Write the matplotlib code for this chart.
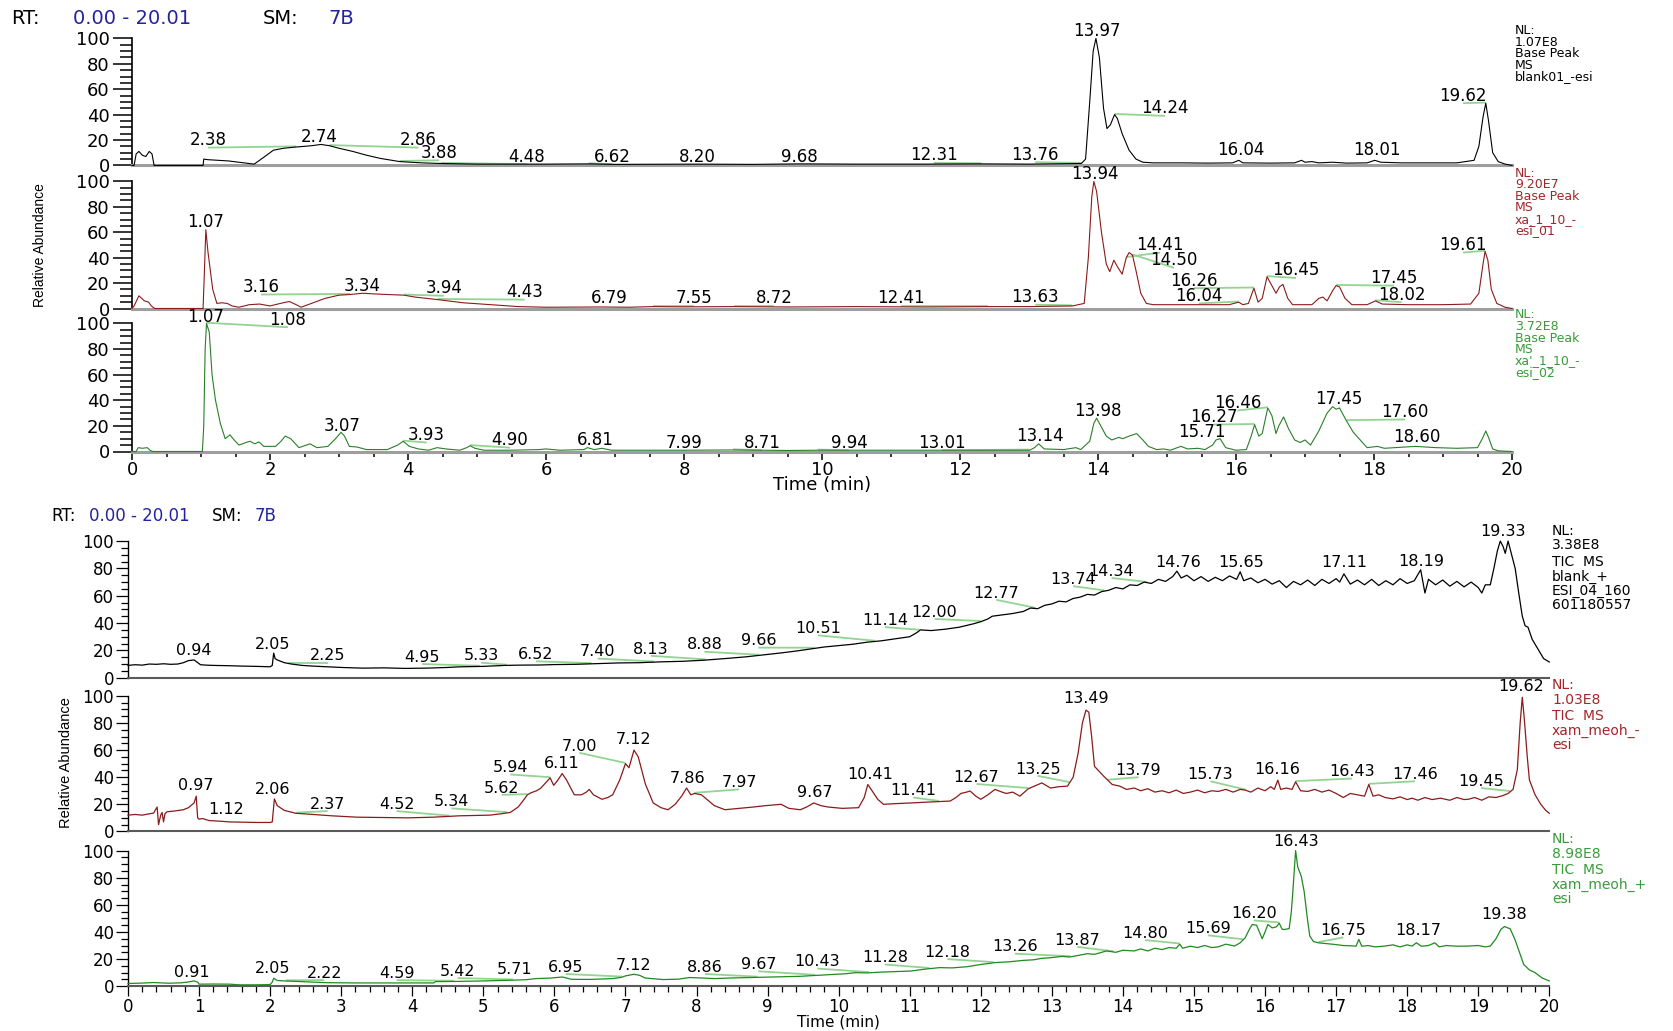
import numpy as np
import matplotlib
matplotlib.use("Agg")
import matplotlib.pyplot as plt
from matplotlib.ticker import MultipleLocator

# ---------------------------------------------------------------
# Chromatogram traces: (retention time [min], relative abundance [%])
# ---------------------------------------------------------------

# Base Peak MS, negative ESI
bp_blank = [
    (0.00, 0), (0.03, 0), (0.06, 9), (0.10, 11), (0.15, 8), (0.20, 7), (0.25, 11), (0.29, 9),
    (0.32, 0), (1.03, 0), (1.04, 5), (1.10, 4.5), (1.40, 3.5), (1.77, 1), (1.90, 6), (2.05, 12),
    (2.20, 13.5), (2.38, 14.5), (2.50, 15), (2.60, 15.5), (2.74, 16.5), (2.86, 15.5), (3.00, 13.5),
    (3.20, 11), (3.40, 8), (3.60, 5.5), (3.88, 3), (4.20, 2), (4.48, 1.5), (5.00, 1), (6.00, 1),
    (6.62, 1.2), (7.00, 0.8), (8.20, 1), (9.00, 0.8), (9.68, 1.2), (10.5, 1), (11.5, 1),
    (12.31, 1.2), (13.0, 1), (13.76, 1.5), (13.82, 5), (13.88, 50), (13.93, 90), (13.97, 100),
    (14.02, 85), (14.08, 45), (14.13, 29), (14.18, 32), (14.24, 40), (14.28, 37), (14.35, 25),
    (14.45, 12), (14.55, 5), (14.65, 2.5), (14.8, 2), (15.2, 2), (15.6, 1.8), (15.95, 2),
    (16.04, 4), (16.1, 2), (16.5, 1.8), (16.85, 2), (16.95, 4), (17.0, 2.5), (17.1, 3), (17.2, 2),
    (17.4, 2.5), (17.6, 1.8), (17.9, 2), (18.01, 4), (18.1, 2.5), (18.4, 2), (18.8, 2), (19.2, 2),
    (19.45, 4), (19.52, 15), (19.58, 38), (19.62, 49), (19.66, 35), (19.72, 10), (19.8, 3),
    (19.9, 1), (20.0, 0),
]

bp_xa01 = [
    (0.00, 0), (0.03, 2), (0.10, 10), (0.18, 6), (0.24, 5), (0.28, 2), (0.33, 0), (1.03, 0),
    (1.05, 30), (1.07, 62), (1.10, 45), (1.17, 15), (1.23, 4), (1.30, 4.5), (1.38, 4), (1.45, 2),
    (1.55, 1), (1.70, 3), (1.85, 3.5), (2.0, 2), (2.15, 4), (2.28, 5.5), (2.38, 3), (2.45, 1),
    (2.6, 4), (2.8, 8), (3.0, 10.5), (3.16, 11), (3.34, 12), (3.5, 11.5), (3.7, 11), (3.94, 10.5),
    (4.1, 9), (4.43, 7), (4.8, 4.5), (5.2, 3), (5.6, 1.5), (6.0, 1), (6.79, 1.2), (7.2, 1),
    (7.55, 1.5), (8.0, 1.3), (8.72, 1.5), (9.5, 1.2), (10.5, 1.5), (11.5, 1.2), (12.41, 1.5),
    (13.0, 1.5), (13.63, 2), (13.8, 4), (13.86, 40), (13.91, 88), (13.94, 100), (13.98, 92),
    (14.05, 60), (14.12, 35), (14.17, 29), (14.23, 38), (14.28, 33), (14.35, 27), (14.41, 40),
    (14.45, 44), (14.50, 42), (14.55, 30), (14.62, 12), (14.7, 4), (14.8, 3), (15.5, 3),
    (15.9, 3), (16.04, 5), (16.1, 3), (16.18, 4), (16.26, 16), (16.32, 5), (16.38, 8),
    (16.45, 25), (16.52, 18), (16.58, 12), (16.63, 17), (16.68, 19), (16.75, 8), (16.82, 3),
    (17.1, 3), (17.2, 8), (17.26, 9), (17.32, 6), (17.4, 14), (17.45, 18), (17.5, 17),
    (17.58, 8), (17.68, 3), (17.9, 3), (18.02, 6), (18.12, 3.5), (18.5, 3), (19.0, 3),
    (19.4, 3.5), (19.52, 12), (19.58, 35), (19.61, 45), (19.65, 38), (19.7, 15), (19.78, 4),
    (19.9, 1), (20.0, 0),
]

bp_xa02 = [
    (0.00, 0), (0.06, 0), (0.09, 3), (0.15, 2.5), (0.22, 3), (0.26, 1), (0.30, 0), (1.02, 0),
    (1.04, 20), (1.06, 80), (1.08, 100), (1.12, 93), (1.16, 60), (1.21, 40), (1.28, 22),
    (1.35, 10), (1.42, 13), (1.48, 9), (1.55, 5), (1.65, 7), (1.71, 8), (1.78, 6), (1.84, 7.5),
    (1.91, 4), (2.08, 4), (2.16, 8), (2.22, 12), (2.30, 10), (2.42, 3), (2.58, 6), (2.68, 3),
    (2.84, 4), (2.95, 10), (3.03, 15), (3.08, 12), (3.15, 4), (3.26, 3.5), (3.40, 1.5),
    (3.70, 1.5), (3.85, 5), (3.93, 8), (4.02, 4), (4.15, 2), (4.30, 1), (4.42, 3), (4.55, 2),
    (4.75, 1), (4.85, 3), (4.90, 4.5), (4.97, 2.5), (5.10, 1), (5.50, 1), (5.90, 1.5), (6.00, 2),
    (6.20, 1), (6.55, 1.5), (6.60, 3), (6.70, 1.5), (6.81, 2.5), (6.95, 1), (7.50, 1), (7.99, 1),
    (8.71, 1.2), (9.50, 0.8), (9.94, 1), (11.0, 1), (12.0, 1), (13.01, 1), (13.08, 3), (13.14, 6),
    (13.22, 2), (13.50, 1.5), (13.68, 3), (13.75, 1.5), (13.88, 8), (13.94, 22), (13.98, 26),
    (14.04, 20), (14.12, 12), (14.20, 9), (14.30, 11), (14.36, 10), (14.45, 12), (14.56, 14),
    (14.65, 9), (14.73, 4), (14.85, 1.5), (14.95, 2), (15.05, 1), (15.20, 4), (15.30, 2),
    (15.45, 2.5), (15.55, 1.5), (15.66, 5), (15.71, 9), (15.77, 10), (15.85, 3), (16.00, 1),
    (16.15, 1.5), (16.22, 12), (16.27, 21), (16.33, 12), (16.38, 14), (16.46, 34), (16.52, 28),
    (16.58, 14), (16.62, 20), (16.69, 27), (16.76, 18), (16.85, 9), (16.93, 7), (17.00, 9),
    (17.08, 5), (17.20, 16), (17.32, 30), (17.40, 35), (17.45, 33), (17.50, 34), (17.60, 24),
    (17.70, 15), (17.80, 9), (17.90, 3), (18.05, 4), (18.15, 2.5), (18.30, 3), (18.60, 4),
    (18.90, 3), (19.20, 2.5), (19.50, 3), (19.57, 10), (19.62, 16), (19.66, 11), (19.72, 2),
    (19.80, 0.5), (20.0, 0),
]

# TIC MS
tic_blank = [
    (0.0, 9), (0.1, 9.5), (0.2, 9.2), (0.3, 10), (0.4, 9.8), (0.5, 10.2), (0.6, 9.8), (0.7, 10),
    (0.78, 11), (0.85, 12.5), (0.93, 13), (0.98, 11), (1.02, 9.5), (1.1, 9.2), (1.2, 9),
    (1.4, 8.8), (1.6, 8.5), (1.8, 8.3), (2.0, 8), (2.03, 9), (2.05, 18), (2.07, 14), (2.1, 13),
    (2.2, 11), (2.3, 10), (2.45, 9), (2.6, 8.5), (2.8, 8), (3.0, 7.5), (3.3, 7), (3.6, 7.2),
    (3.9, 6.8), (4.2, 7), (4.5, 7.5), (4.6, 7.8), (4.7, 8), (5.0, 8.3), (5.3, 9), (5.5, 9.2),
    (5.8, 9.3), (6.0, 9.6), (6.3, 9.8), (6.6, 10.3), (6.9, 10.8), (7.2, 11), (7.5, 11.6),
    (7.8, 12), (8.1, 12.8), (8.4, 14), (8.7, 15.3), (9.0, 17), (9.2, 18.2), (9.4, 19.5),
    (9.6, 21), (9.8, 22.5), (10.0, 23.5), (10.2, 24.5), (10.4, 26), (10.6, 27), (10.8, 28.5),
    (11.0, 30), (11.1, 33), (11.15, 35), (11.3, 34.5), (11.5, 35.5), (11.7, 37), (11.9, 39.5),
    (12.0, 41), (12.1, 43), (12.16, 45), (12.3, 46), (12.45, 47), (12.6, 48.5), (12.7, 51),
    (12.8, 50.5), (12.9, 53), (13.0, 54), (13.1, 56), (13.2, 55.5), (13.3, 58), (13.4, 59),
    (13.5, 61), (13.6, 60.5), (13.7, 63), (13.8, 64), (13.9, 66), (14.0, 65), (14.1, 68),
    (14.2, 67.5), (14.3, 70), (14.4, 69), (14.5, 72), (14.6, 70.5), (14.7, 74), (14.76, 78),
    (14.82, 73), (14.9, 75), (15.0, 71), (15.1, 74), (15.2, 70.5), (15.3, 73.5), (15.4, 71),
    (15.5, 74.5), (15.6, 72), (15.65, 77.5), (15.7, 71), (15.8, 73), (15.9, 69.5), (16.0, 72),
    (16.1, 68.5), (16.2, 71), (16.3, 66), (16.4, 70.5), (16.5, 68), (16.6, 71.5), (16.7, 67.5),
    (16.8, 72), (16.9, 69), (17.0, 72.5), (17.05, 70), (17.11, 76), (17.2, 68.5), (17.3, 71.5),
    (17.4, 68), (17.5, 72), (17.6, 67.5), (17.7, 71), (17.8, 68), (17.9, 72.5), (18.0, 69),
    (18.1, 71), (18.19, 79), (18.25, 62), (18.3, 72), (18.4, 68), (18.5, 71.5), (18.6, 67),
    (18.7, 70.5), (18.8, 66.5), (18.9, 70), (19.0, 66), (19.05, 62), (19.1, 68), (19.17, 68),
    (19.22, 80), (19.27, 93), (19.31, 100), (19.35, 96), (19.38, 91), (19.42, 100), (19.46, 92),
    (19.52, 80), (19.57, 62), (19.62, 45), (19.66, 38), (19.7, 37), (19.76, 28), (19.84, 21),
    (19.92, 14), (20.0, 11.5),
]

tic_neg = [
    (0.0, 12), (0.1, 12.5), (0.2, 12), (0.3, 13), (0.36, 13.5), (0.41, 18), (0.43, 5),
    (0.46, 12), (0.48, 14), (0.5, 7), (0.52, 13), (0.55, 14.5), (0.65, 15), (0.78, 16),
    (0.85, 17.5), (0.93, 21), (0.96, 26), (0.98, 10), (1.0, 9), (1.05, 9.5), (1.14, 8),
    (1.3, 7.5), (1.43, 7), (1.6, 6.8), (1.8, 6.6), (2.0, 6.6), (2.03, 7), (2.06, 24), (2.1, 19),
    (2.2, 15.5), (2.36, 13.4), (2.6, 12.5), (2.87, 11.5), (3.22, 10.5), (3.6, 10.2), (3.94, 10),
    (4.3, 10.5), (4.66, 11.5), (4.9, 11.8), (5.09, 12), (5.25, 13), (5.38, 14), (5.49, 18),
    (5.55, 22), (5.62, 27), (5.67, 28.5), (5.75, 30), (5.81, 32), (5.88, 36), (5.94, 39.5),
    (5.99, 34), (6.05, 38), (6.11, 42.7), (6.17, 38), (6.28, 27), (6.38, 27), (6.45, 29),
    (6.49, 31), (6.55, 27), (6.67, 23.7), (6.75, 25), (6.82, 27), (6.92, 38), (7.0, 50),
    (7.05, 47), (7.12, 60), (7.18, 55), (7.28, 35), (7.39, 21), (7.5, 17.5), (7.6, 16),
    (7.7, 20), (7.79, 26), (7.86, 32), (7.92, 27), (7.97, 28), (8.07, 27), (8.25, 19),
    (8.4, 16), (8.6, 17), (8.8, 18), (8.97, 19), (9.19, 20), (9.3, 17), (9.46, 16), (9.55, 18),
    (9.65, 21), (9.75, 19), (9.85, 18), (10.05, 17), (10.28, 17.5), (10.36, 25), (10.41, 34.6),
    (10.47, 30), (10.55, 23.7), (10.63, 20), (10.8, 20.5), (11.02, 21), (11.2, 21.5),
    (11.41, 22), (11.57, 22.4), (11.65, 25), (11.72, 28), (11.8, 29), (11.85, 29.8),
    (11.93, 26), (12.0, 23.7), (12.1, 27), (12.2, 31), (12.3, 29), (12.36, 28), (12.45, 29),
    (12.55, 26), (12.67, 31.5), (12.78, 34), (12.86, 35.8), (12.98, 32), (13.1, 33),
    (13.22, 33.4), (13.3, 40), (13.37, 57.8), (13.43, 80), (13.48, 89.5), (13.52, 88),
    (13.56, 70), (13.6, 48), (13.73, 40.7), (13.85, 34.6), (13.95, 33.5), (14.05, 31),
    (14.16, 32), (14.25, 30), (14.35, 31.5), (14.45, 29), (14.55, 30), (14.65, 28.5),
    (14.75, 30.5), (14.85, 28), (14.95, 29), (15.05, 30.5), (15.15, 28.5), (15.25, 30),
    (15.34, 29.5), (15.45, 31), (15.55, 29), (15.65, 31), (15.72, 30.5), (15.8, 29), (15.9, 32),
    (16.0, 30), (16.08, 33), (16.13, 31), (16.18, 37.8), (16.22, 31), (16.3, 32), (16.38, 31),
    (16.43, 36.6), (16.5, 30), (16.6, 29.5), (16.7, 31), (16.8, 29), (16.9, 30.5), (17.0, 28),
    (17.1, 25), (17.2, 28), (17.3, 27), (17.4, 26), (17.46, 34.6), (17.52, 26), (17.6, 27),
    (17.69, 25), (17.8, 24), (17.9, 25.5), (18.0, 23.5), (18.07, 24.5), (18.15, 23),
    (18.25, 25), (18.35, 23.5), (18.47, 24.5), (18.6, 23), (18.7, 25), (18.8, 23.5),
    (18.86, 23.7), (18.95, 25), (19.05, 23), (19.15, 25.5), (19.25, 25), (19.35, 26.5),
    (19.42, 28), (19.49, 31), (19.55, 45.6), (19.59, 80), (19.62, 99), (19.65, 82), (19.69, 55),
    (19.72, 38), (19.8, 27), (19.88, 20), (19.95, 15.5), (20.0, 13.4),
]

tic_pos = [
    (0.0, 2), (0.2, 2.3), (0.36, 2.7), (0.57, 2.2), (0.75, 2.5), (0.86, 3.2), (0.93, 3.9),
    (0.98, 3), (1.0, 1.5), (1.2, 1.6), (1.43, 1.5), (1.57, 1), (1.8, 1), (2.0, 1.2), (2.03, 3),
    (2.05, 5.9), (2.1, 4.2), (2.2, 3.9), (2.51, 3.2), (2.8, 2.6), (3.22, 2.4), (3.94, 2.4),
    (4.3, 2.4), (4.33, 3.4), (4.6, 3.5), (5.02, 3.9), (5.38, 4.4), (5.6, 4.8), (5.74, 5.6),
    (5.95, 6), (6.11, 6.8), (6.17, 6), (6.24, 5.1), (6.5, 5), (6.82, 5.6), (6.95, 6.6),
    (7.0, 7.6), (7.12, 8.8), (7.2, 8), (7.28, 6), (7.53, 4.9), (7.75, 5.2), (7.9, 6.4),
    (8.1, 6), (8.25, 5.6), (8.45, 6), (8.61, 6.2), (8.8, 6.5), (8.97, 6.6), (9.2, 7),
    (9.46, 7.3), (9.7, 8), (9.9, 8.6), (10.1, 9.2), (10.24, 10), (10.4, 9.8), (10.6, 10.4),
    (10.8, 10.8), (11.02, 11.2), (11.2, 12.5), (11.42, 13.7), (11.6, 13.5), (11.81, 14.4),
    (12.0, 16), (12.2, 17.4), (12.4, 18), (12.59, 19), (12.75, 19.5), (12.85, 20.5),
    (12.98, 21), (13.15, 22), (13.25, 21.5), (13.37, 22.7), (13.5, 24), (13.6, 23.5),
    (13.77, 26), (13.9, 25), (14.0, 26.5), (14.16, 26), (14.25, 27.5), (14.35, 26),
    (14.45, 28), (14.55, 27), (14.65, 28.5), (14.75, 28), (14.8, 31), (14.84, 28),
    (14.95, 29.5), (15.05, 28.5), (15.15, 30), (15.25, 28.5), (15.34, 29), (15.45, 31),
    (15.57, 29.6), (15.65, 32), (15.72, 35.7), (15.78, 42), (15.82, 45.5), (15.88, 45),
    (15.92, 40), (15.96, 35), (16.0, 40), (16.04, 45.5), (16.1, 43), (16.16, 43.8),
    (16.2, 46.5), (16.24, 42), (16.27, 41.8), (16.34, 42.5), (16.37, 55), (16.39, 68.7),
    (16.43, 100), (16.46, 88), (16.51, 81), (16.55, 70), (16.6, 48), (16.63, 37), (16.68, 33),
    (16.75, 32), (16.85, 31.5), (16.98, 30.8), (17.1, 30), (17.2, 29.8), (17.28, 29.5),
    (17.32, 34.5), (17.36, 29.5), (17.45, 30), (17.55, 29), (17.69, 29.6), (17.8, 30.5),
    (17.9, 29), (18.0, 30.5), (18.07, 29.6), (18.13, 32), (18.2, 29.5), (18.3, 30),
    (18.39, 32), (18.45, 29), (18.55, 30), (18.7, 29.5), (18.86, 29.6), (19.0, 30), (19.1, 29),
    (19.17, 29.6), (19.25, 35), (19.32, 42), (19.37, 44), (19.45, 42.3), (19.52, 34),
    (19.6, 22), (19.64, 16), (19.72, 12), (19.8, 10), (19.9, 6), (20.0, 3.9),
]

# Retention times of the annotated peaks
bp_blank_peaks = [2.38, 2.74, 2.86, 3.88, 4.48, 6.62, 8.20, 9.68, 12.31, 13.76, 13.97, 14.24,
                  16.04, 18.01, 19.62]
bp_xa01_peaks = [1.07, 3.16, 3.34, 3.94, 4.43, 6.79, 7.55, 8.72, 12.41, 13.63, 13.94, 14.41,
                 14.50, 16.26, 16.04, 16.45, 17.45, 18.02, 19.61]
bp_xa02_peaks = [1.07, 1.08, 3.07, 3.93, 4.90, 6.81, 7.99, 8.71, 9.94, 13.01, 13.14, 13.98,
                 15.71, 16.27, 16.46, 17.45, 17.60, 18.60]
tic_blank_peaks = [0.94, 2.05, 2.25, 4.95, 5.33, 6.52, 7.40, 8.13, 8.88, 9.66, 10.51, 11.14,
                   12.00, 12.77, 13.74, 14.34, 14.76, 15.65, 17.11, 18.19, 19.33]
tic_neg_peaks = [0.97, 1.12, 2.06, 2.37, 4.52, 5.34, 5.62, 5.94, 6.11, 7.00, 7.12, 7.86, 7.97,
                 9.67, 10.41, 11.41, 12.67, 13.25, 13.49, 13.79, 15.73, 16.16, 16.43, 17.46,
                 19.45, 19.62]
tic_pos_peaks = [0.91, 2.05, 2.22, 4.59, 5.42, 5.71, 6.95, 7.12, 8.86, 9.67, 10.43, 11.28,
                 12.18, 13.26, 13.87, 14.80, 15.69, 16.20, 16.43, 16.75, 18.17, 19.38]

# Normalisation level / scan filter blocks
bp_blank_info = ["NL:", "1.07E8", "Base Peak", "MS", "blank01_-esi"]
bp_xa01_info = ["NL:", "9.20E7", "Base Peak", "MS", "xa_1_10_-", "esi_01"]
bp_xa02_info = ["NL:", "3.72E8", "Base Peak", "MS", "xa'_1_10_-", "esi_02"]
tic_blank_info = ["NL:", "3.38E8", "TIC  MS", "blank_+", "ESI_04_160", "601180557"]
tic_neg_info = ["NL:", "1.03E8", "TIC  MS", "xam_meoh_-", "esi"]
tic_pos_info = ["NL:", "8.98E8", "TIC  MS", "xam_meoh_+", "esi"]

rt_range = "0.00 - 20.01"
smoothing = "7B"

# ---------------------------------------------------------------
# Layout (figure pixels) and label placement (data units)
# ---------------------------------------------------------------
W, H = 1673, 1031

bp_blank_tags = [(1.10, 20), (2.72, 22), (4.15, 20), (4.45, 10), (5.72, 7), (6.96, 7), (8.20, 7),
                 (9.67, 7), (11.62, 8), (13.09, 8.5), (13.98, 106), (14.97, 45), (16.07, 12),
                 (18.04, 12), (19.29, 55)]
bp_xa01_tags = [(1.07, 68), (1.87, 17), (3.33, 18), (4.52, 16), (5.69, 13), (6.91, 8), (8.14, 8),
                (9.31, 8), (11.14, 8), (13.09, 9), (13.95, 106), (14.90, 50), (15.10, 38),
                (15.39, 22), (15.46, 10), (16.87, 30), (18.29, 24), (18.40, 11), (19.29, 50)]
bp_xa02_tags = [(1.07, 105), (2.26, 103), (3.05, 20), (4.27, 13), (5.48, 9), (6.71, 9), (8.0, 7),
                (9.13, 7), (10.39, 7), (11.74, 7), (13.16, 12), (14.0, 32), (15.51, 15),
                (15.68, 27), (16.02, 38), (17.49, 41), (18.45, 31), (18.62, 11)]
tic_blank_tags = [(0.92, 20), (2.04, 24), (2.81, 16), (4.14, 15), (4.97, 16), (5.74, 17),
                  (6.61, 19), (7.36, 21), (8.11, 24), (8.87, 27), (9.71, 36), (10.65, 42),
                  (11.35, 48), (12.22, 62), (13.30, 72), (13.84, 78), (14.77, 84), (15.66, 84),
                  (17.12, 84), (18.20, 85), (19.35, 107)]
tic_neg_tags = [(0.95, 34), (1.38, 16), (2.04, 31), (2.81, 20), (3.78, 20), (4.55, 22),
                (5.26, 32), (5.38, 47), (6.10, 50), (6.35, 63), (7.12, 68), (7.87, 39), (8.60, 36),
                (9.67, 29), (10.44, 42), (11.05, 30), (11.94, 40), (12.80, 46), (13.48, 98),
                (14.22, 45), (15.23, 42), (16.17, 46), (17.22, 44), (18.11, 42), (19.04, 37),
                (19.60, 107)]
tic_pos_tags = [(0.90, 10), (2.04, 13), (2.76, 9.5), (3.78, 9.5), (4.64, 11), (5.44, 12.6),
                (6.16, 14), (7.12, 15), (8.12, 14), (8.87, 16), (9.70, 18), (10.65, 21),
                (11.53, 25), (12.48, 29), (13.36, 34), (14.31, 39), (15.20, 42.5), (15.84, 53.5),
                (16.44, 107), (17.10, 41), (18.15, 41), (19.37, 53)]

BLACK = "#000000"
RED = "#8B1A1A"
RED_TXT = "#A3262A"
GREEN = "#1F8A1F"
GREEN_TXT = "#3A9A3A"
LEADER = "#93D493"
BLUE = "#23239E"

plt.rcParams["font.family"] = ["DejaVu Sans"]
fig = plt.figure(figsize=(W / 100, H / 100), dpi=100)
fig.patch.set_facecolor("white")


def add_axes(left, right, top, bottom):
    ax = fig.add_axes([left / W, 1 - bottom / H, (right - left) / W, (bottom - top) / H])
    ax.patch.set_visible(False)
    return ax


def style(ax, cfg, show_x):
    ax.set_xlim(0, 20)
    ax.set_ylim(0, 100)
    ax.spines["top"].set_visible(False)
    ax.spines["right"].set_visible(False)
    ax.spines["left"].set_color("black")
    ax.spines["left"].set_linewidth(cfg["spine_lw"])
    ax.spines["bottom"].set_color(cfg["base_color"])
    ax.spines["bottom"].set_linewidth(cfg["base_lw"])
    ax.yaxis.set_major_locator(MultipleLocator(20))
    ax.yaxis.set_minor_locator(MultipleLocator(5))
    ax.tick_params(axis="y", which="major", length=cfg["ymaj"], width=cfg["tick_w"],
                   pad=cfg["ypad"], labelsize=cfg["tick_fs"], direction="out")
    ax.tick_params(axis="y", which="minor", length=cfg["ymin"], width=cfg["tick_w"],
                   direction="out")
    ax.xaxis.set_major_locator(MultipleLocator(cfg["xmajor"]))
    ax.xaxis.set_minor_locator(MultipleLocator(cfg["xminor"]))
    if show_x:
        ax.tick_params(axis="x", which="major", length=cfg["xmaj"], width=cfg["tick_w"],
                       pad=cfg["xpad"], labelsize=cfg["tick_fs"], direction="out",
                       color="black")
        ax.tick_params(axis="x", which="minor", length=cfg["xmin"], width=cfg["tick_w"],
                       direction="out", color="black")
    else:
        ax.tick_params(axis="x", which="both", bottom=False, labelbottom=False)


def draw(ax, pts, peaks, tags, color, cfg):
    t, v = np.array(pts, dtype=float).T
    ax.plot(t, v, color=color, lw=cfg["trace_lw"], clip_on=False, zorder=3)
    for rt, (tx, ty) in zip(peaks, tags):
        apex = np.interp(rt, t, v)
        if abs(tx - rt) > 0.3:
            ax.plot([rt, tx], [apex + 0.5, ty - cfg["drop"]], color=LEADER, lw=1.3,
                    clip_on=False, zorder=2, solid_capstyle="butt")
        ax.text(tx, ty, f"{rt:.2f}", ha="center", va="center", fontsize=cfg["label_fs"],
                color="black", clip_on=False, zorder=4)


def info_block(lines, x, y0, offsets, color, fs):
    for s, dy in zip(lines, offsets):
        fig.text(x / W, 1 - (y0 + dy) / H, s, color=color, fontsize=fs, ha="left", va="center")


def header(parts, y, fs):
    for s, x, c in parts:
        fig.text(x / W, 1 - y / H, s, color=c, fontsize=fs, ha="left", va="center")


top_cfg = dict(spine_lw=1.2, base_color="#9E9E9E", base_lw=2.2, ymaj=14, ymin=8.5, tick_w=1.1,
               ypad=2, tick_fs=13, xmajor=2, xminor=0.5, xmaj=6, xmin=3.5, xpad=1.0,
               trace_lw=0.8, drop=6, label_fs=12)
bot_cfg = dict(spine_lw=1.0, base_color="#5A5A5A", base_lw=1.5, ymaj=8.5, ymin=5, tick_w=0.9,
               ypad=1.5, tick_fs=12, xmajor=1, xminor=0.2, xmaj=7, xmin=4.5, xpad=1.5,
               trace_lw=0.9, drop=5, label_fs=11.5)

# ---------------- top block: Base Peak chromatograms ----------------
header([("RT:", 11, BLACK), (rt_range, 73, BLUE), ("SM:", 263, BLACK), (smoothing, 328, BLUE)],
       18, 14)

ax1 = add_axes(132, 1512, 38.4, 165.4)
ax2 = add_axes(132, 1512, 181.4, 308.5)
ax3 = add_axes(132, 1512, 323.4, 451.5)
for ax, show in ((ax1, False), (ax2, False), (ax3, True)):
    style(ax, top_cfg, show)
draw(ax1, bp_blank, bp_blank_peaks, bp_blank_tags, BLACK, top_cfg)
draw(ax2, bp_xa01, bp_xa01_peaks, bp_xa01_tags, RED, top_cfg)
draw(ax3, bp_xa02, bp_xa02_peaks, bp_xa02_tags, "#2A7F2A", top_cfg)
fig.text(822 / W, 1 - 485 / H, "Time (min)", ha="center", va="center", fontsize=13)

top_off = [0, 11.5, 23, 34.5, 46, 57.5]
info_block(bp_blank_info, 1515, 30.7, top_off, BLACK, 9)
info_block(bp_xa01_info, 1515, 173.3, top_off, RED_TXT, 9)
info_block(bp_xa02_info, 1515, 315, top_off, GREEN_TXT, 9)

fig.text(39.5 / W, 1 - 245.5 / H, "Relative Abundance", rotation=90, ha="center", va="center",
         fontsize=10, family=["Liberation Sans", "DejaVu Sans"])

# ---------------- bottom block: TIC chromatograms ----------------
header([("RT:", 51, BLACK), (rt_range, 89, BLUE), ("SM:", 212, BLACK), (smoothing, 255, BLUE)],
       516, 12)

bx1 = add_axes(128, 1549.3, 541.1, 677.7)
bx2 = add_axes(128, 1549.3, 695.9, 831.4)
bx3 = add_axes(128, 1549.3, 850.6, 986.2)
for ax, show in ((bx1, False), (bx2, False), (bx3, True)):
    style(ax, bot_cfg, show)
draw(bx1, tic_blank, tic_blank_peaks, tic_blank_tags, BLACK, bot_cfg)
draw(bx2, tic_neg, tic_neg_peaks, tic_neg_tags, RED, bot_cfg)
draw(bx3, tic_pos, tic_pos_peaks, tic_pos_tags, GREEN, bot_cfg)
fig.text(838 / W, 1 - 1022 / H, "Time (min)", ha="center", va="center", fontsize=11)

bot_off = [0, 14.5, 31, 46, 60, 74.5]
info_block(tic_blank_info, 1552, 530.7, bot_off, BLACK, 10)
info_block(tic_neg_info, 1552, 685, bot_off, RED_TXT, 10)
info_block(tic_pos_info, 1552, 839.3, bot_off, GREEN_TXT, 10)

fig.text(66 / W, 1 - 763 / H, "Relative Abundance", rotation=90, ha="center", va="center",
         fontsize=10.5, family=["Liberation Sans", "DejaVu Sans"])

fig.savefig("out.png", dpi=100, facecolor="white")
